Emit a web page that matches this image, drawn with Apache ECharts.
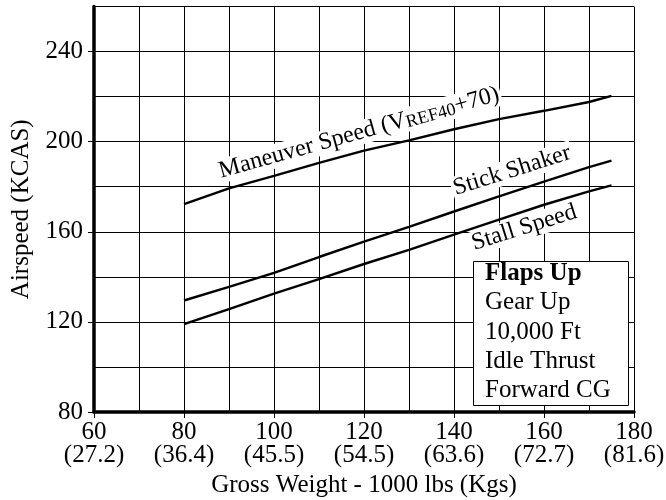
<!DOCTYPE html>
<html><head><meta charset="utf-8">
<script src="https://cdn.jsdelivr.net/npm/echarts@6/dist/echarts.min.js"></script>
<style>html,body{margin:0;padding:0;background:#fff}#c{width:666px;height:500px}</style>
</head><body><div id="c"></div>
<script>
// ---- data ----
const weights = [80, 90, 100, 110, 120, 130, 140, 150, 160, 170, 175];
const maneuverSpeed = [172.3, 179.3, 184.8, 190.6, 196.0, 200.6, 205.5, 210.0, 213.7, 217.6, 220.3];
const stickShaker = [129.5, 135.5, 141.8, 148.8, 155.6, 162.2, 169.0, 175.7, 182.3, 188.7, 191.6];
const stallSpeed = [119.0, 125.7, 132.5, 139.0, 145.7, 152.0, 158.7, 165.4, 172.0, 177.9, 180.6];
const xTickValues = [60, 80, 100, 120, 140, 160, 180];
const xTickKgs = ['27.2', '36.4', '45.5', '54.5', '63.6', '72.7', '81.6'];
const yTickValues = [80, 120, 160, 200, 240];
const legendLines = ['Flaps Up', 'Gear Up', '10,000 Ft', 'Idle Thrust', 'Forward CG'];
const curveLabelTexts = ['Maneuver Speed (V{sub|REF40}+70)', 'Stick Shaker', 'Stall Speed'];

// ---- layout / style ----
const FONT = "'Liberation Serif', 'Times New Roman', serif";
const labelAnchors = [
  { at: [118.9, 203.9], rot: 15.5 },
  { at: [152.9, 187.1], rot: 17.5 },
  { at: [155.6, 161.8], rot: 17.5 }
];

const chart = echarts.init(document.getElementById('c'), null, { renderer: 'canvas' });
const pairs = arr => weights.map((w, i) => [w, arr[i]]);
const lineSeries = (name, arr) => ({
  name, type: 'line', data: pairs(arr), showSymbol: false, symbol: 'none',
  lineStyle: { color: '#000', width: 2.4 }, z: 3, silent: true
});
const gridLineAxis = (min, max, interval) => ({
  type: 'value', min, max, interval,
  axisLine: { show: false }, axisTick: { show: false }, axisLabel: { show: false },
  splitLine: { show: true, lineStyle: { color: '#000', width: 1 } }
});

chart.setOption({
  animation: false,
  backgroundColor: '#fff',
  grid: { left: 94, right: 32, top: 6.5, bottom: 88, containLabel: false, outerBoundsMode: 'none' },
  xAxis: [{
    type: 'value', min: 60, max: 180, interval: 20, z: 5,
    axisLine: { onZero: false, lineStyle: { color: '#000', width: 3.5 } },
    axisTick: { show: true, length: 6, lineStyle: { color: '#000', width: 1 } },
    axisLabel: {
      formatter: v => v + '\n(' + xTickKgs[xTickValues.indexOf(v)] + ')',
      fontFamily: FONT, fontSize: 25, lineHeight: 23, color: '#000', margin: 9
    },
    splitLine: { show: false },
    name: 'Gross Weight - 1000 lbs (Kgs)', nameLocation: 'middle', nameGap: 59,
    nameTextStyle: { fontFamily: FONT, fontSize: 25, color: '#000' }
  }, gridLineAxis(60, 180, 10)],
  yAxis: [{
    type: 'value', min: 80, max: 260, interval: 20, z: 5,
    axisLine: { onZero: false, lineStyle: { color: '#000', width: 3.5 } },
    axisTick: { show: true, customValues: yTickValues, length: 6, lineStyle: { color: '#000', width: 1 } },
    axisLabel: { customValues: yTickValues, fontFamily: FONT, fontSize: 25, color: '#000', margin: 11 },
    splitLine: { show: false },
    name: 'Airspeed (KCAS)', nameLocation: 'middle', nameGap: 60,
    nameTextStyle: { fontFamily: FONT, fontSize: 25, color: '#000' }
  }, gridLineAxis(80, 260, 20)],
  series: [
    lineSeries('Maneuver Speed', maneuverSpeed),
    lineSeries('Stick Shaker', stickShaker),
    lineSeries('Stall Speed', stallSpeed)
  ]
});

// curve labels placed via the chart's own coordinate conversion
const labelGraphics = labelAnchors.map((a, i) => {
  const p = chart.convertToPixel({ xAxisIndex: 0, yAxisIndex: 0 }, a.at);
  return {
    type: 'text', x: p[0], y: p[1], rotation: a.rot * Math.PI / 180, z: 10,
    style: {
      text: curveLabelTexts[i], fontFamily: FONT, fontSize: 24, fill: '#000',
      align: 'center', verticalAlign: 'middle', backgroundColor: '#fff', padding: [0, 2],
      rich: {
        sub: { fontFamily: FONT, fontSize: 18, lineHeight: 6, verticalAlign: 'bottom', fill: '#000', backgroundColor: '#fff' }
      }
    }
  };
});

const box = { x: 473.5, y: 261.5, w: 155, h: 144 };
const legendGraphics = [{
  type: 'rect', z: 20,
  shape: { x: box.x, y: box.y, width: box.w, height: box.h },
  style: { fill: '#fff', stroke: '#000', lineWidth: 1 }
}].concat(legendLines.map((t, i) => ({
  type: 'text', z: 21, x: 485, y: 273.5 + i * 29.3,
  style: {
    text: t, fontFamily: FONT, fontSize: 25, fontWeight: i === 0 ? 'bold' : 'normal',
    fill: '#000', align: 'left', verticalAlign: 'middle'
  }
})));

chart.setOption({ graphic: labelGraphics.concat(legendGraphics) });
</script>
</body></html>
